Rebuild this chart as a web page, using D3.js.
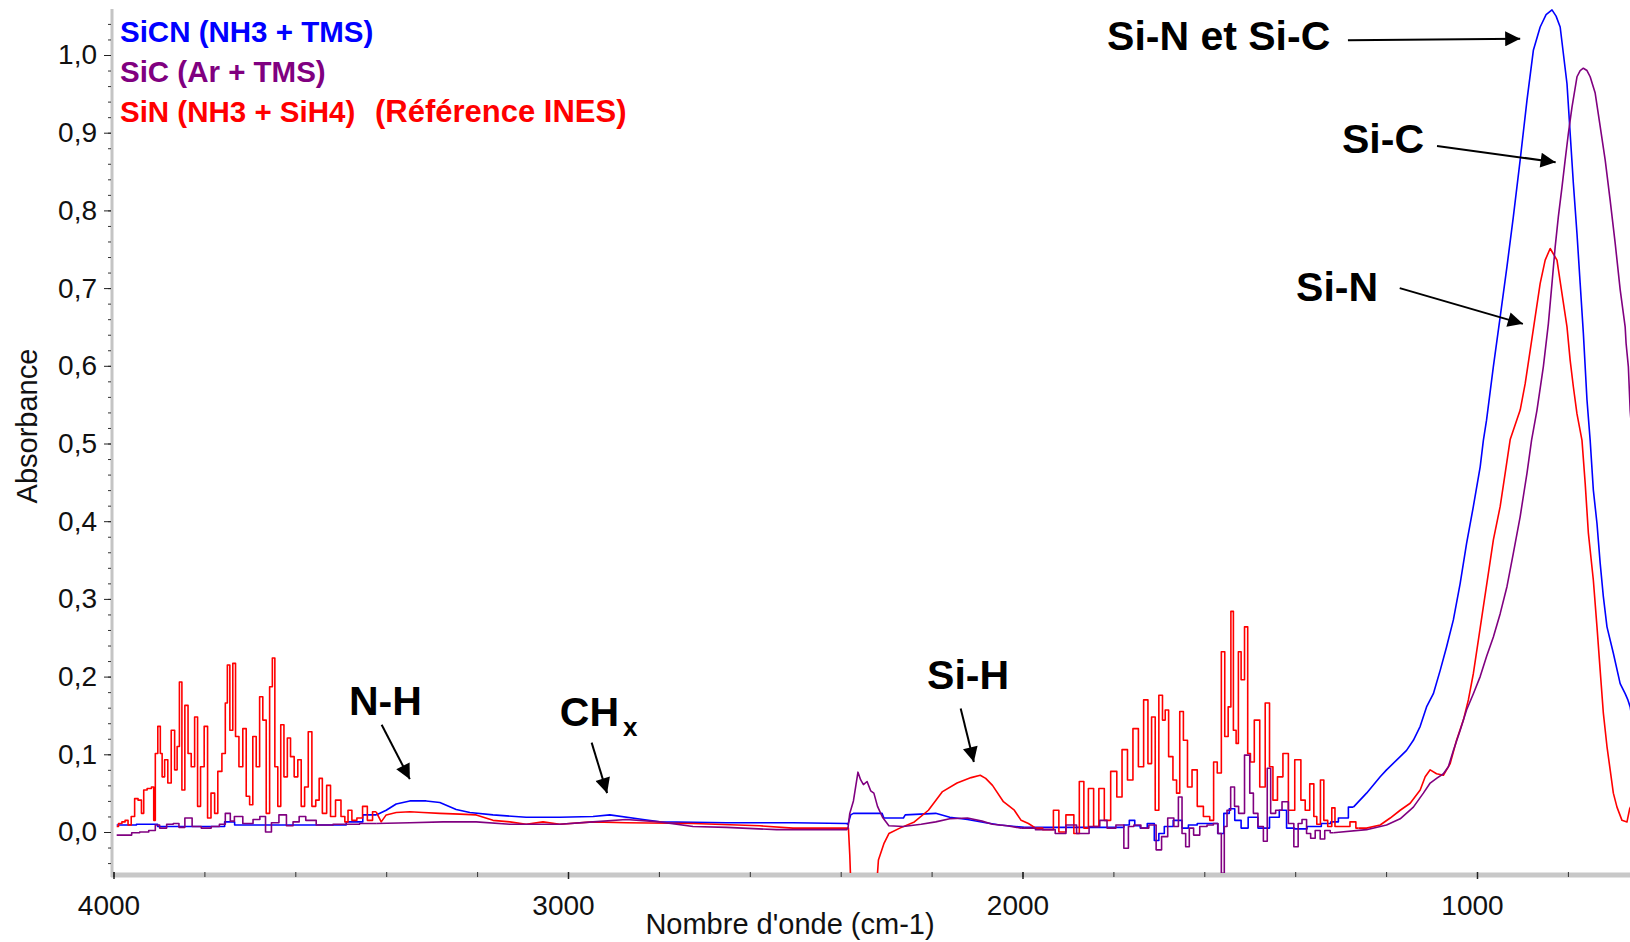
<!DOCTYPE html>
<meta charset="utf-8">

<!-- Load d3.js -->
<script src="https://d3js.org/d3.v7.min.js"></script>

<style>
    body {
        margin: 0;
        background: #ffffff;
    }

    svg text {
        font-family: "Liberation Sans", Arial, Helvetica, sans-serif;
    }

    .tick-label {
        font-size: 28px;
        fill: #111;
    }

    .axis-title {
        font-size: 29px;
        fill: #111;
    }

    .legend {
        font-size: 29.5px;
        font-weight: bold;
    }

    .annot {
        font-size: 41px;
        font-weight: bold;
        fill: #000;
    }

    .spectrum {
        fill: none;
        stroke-width: 1.6px;
        stroke-linejoin: round;
    }
</style>

<div id="chart"></div>

<script>
    // tick values
    const yTicks = [0, 0.1, 0.2, 0.3, 0.4, 0.5, 0.6, 0.7, 0.8, 0.9, 1.0];
    const xTicks = [4000, 3000, 2000, 1000];

    // series names (legend)
    const seriesNames = ["SiCN (NH3 + TMS)", "SiC (Ar + TMS)", "SiN (NH3 + SiH4)"];
    const legendNote = "(Référence INES)";

    // SiCN (NH3 + TMS) - [wavenumber, absorbance]
    const sicnSpectrum = [
        [3993, 0.009], [3906, 0.010], [3900, 0.007], [3759, 0.007], [3752, 0.013], [3737, 0.013],
        [3730, 0.009], [3495, 0.009], [3481, 0.013], [3422, 0.022], [3400, 0.028], [3378, 0.036],
        [3348, 0.040], [3312, 0.040], [3282, 0.038], [3246, 0.029], [3216, 0.025], [3165, 0.022],
        [3092, 0.019], [3018, 0.019], [2945, 0.020], [2908, 0.022], [2835, 0.016], [2798, 0.013],
        [2651, 0.012], [2505, 0.012], [2387, 0.011], [2384, 0.010], [2378, 0.022], [2372, 0.024],
        [2309, 0.024], [2305, 0.018], [2262, 0.018], [2258, 0.022], [2191, 0.024], [2160, 0.019],
        [2121, 0.016], [2081, 0.012], [2050, 0.009], [1995, 0.006], [1783, 0.006], [1771, 0.009],
        [1759, 0.015], [1747, 0.008], [1735, 0.005], [1716, 0.011], [1704, -0.011], [1696, -0.002],
        [1680, 0.007], [1657, 0.015], [1641, 0.005], [1629, 0.009], [1602, 0.011], [1578, 0.011],
        [1563, -0.002], [1551, 0.024], [1539, 0.030], [1527, 0.015], [1511, 0.005], [1496, 0.019],
        [1468, 0.005], [1445, 0.019], [1425, 0.028], [1413, 0.005], [1390, 0.004], [1358, 0.007],
        [1327, 0.011], [1316, 0.013], [1294, 0.018], [1272, 0.032], [1243, 0.050], [1213, 0.071],
        [1199, 0.080], [1169, 0.097], [1155, 0.105], [1140, 0.118], [1125, 0.136], [1111, 0.161],
        [1096, 0.178], [1081, 0.208], [1067, 0.238], [1052, 0.273], [1037, 0.320], [1023, 0.371],
        [1008, 0.419], [993, 0.470], [986, 0.504], [979, 0.530], [964, 0.599], [949, 0.663],
        [934, 0.728], [920, 0.792], [905, 0.865], [890, 0.942], [876, 1.006], [861, 1.036],
        [848, 1.052], [835, 1.058], [826, 1.050], [817, 1.036], [802, 0.963], [795, 0.899],
        [788, 0.835], [780, 0.770], [773, 0.706], [766, 0.642], [758, 0.556], [751, 0.504],
        [744, 0.440], [736, 0.397], [729, 0.346], [722, 0.303], [714, 0.264], [700, 0.230],
        [685, 0.191], [674, 0.178], [668, 0.170], [663, 0.161], [660, 0.150]
    ];

    // SiC (Ar + TMS)
    const sicSpectrum = [
        [3993, -0.004], [3970, -0.004], [3950, -0.001], [3935, 0.000], [3910, 0.002], [3906, 0.009],
        [3891, 0.005], [3875, 0.010], [3862, 0.011], [3850, 0.006], [3836, 0.018], [3818, 0.007],
        [3796, 0.005], [3774, 0.007], [3760, 0.010], [3748, 0.024], [3738, 0.014], [3730, 0.020],
        [3701, 0.011], [3685, 0.016], [3671, 0.020], [3660, 0.000], [3645, 0.012], [3627, 0.022],
        [3612, 0.008], [3598, 0.013], [3585, 0.020], [3569, 0.015], [3539, 0.009], [3495, 0.010],
        [3422, 0.011], [3348, 0.012], [3275, 0.013], [3202, 0.013], [3128, 0.010], [3018, 0.010],
        [2945, 0.013], [2872, 0.016], [2798, 0.013], [2725, 0.007], [2651, 0.006], [2541, 0.003],
        [2387, 0.003], [2384, 0.005], [2380, 0.024], [2372, 0.040], [2362, 0.077], [2356, 0.067],
        [2350, 0.061], [2342, 0.065], [2334, 0.053], [2327, 0.050], [2319, 0.033], [2308, 0.019],
        [2294, 0.008], [2262, 0.007], [2223, 0.010], [2191, 0.013], [2160, 0.017], [2121, 0.018],
        [2089, 0.014], [2066, 0.010], [2034, 0.008], [2003, 0.005], [1940, 0.003], [1916, -0.002],
        [1893, 0.009], [1869, -0.002], [1838, 0.007], [1822, 0.015], [1806, 0.005], [1783, 0.009],
        [1771, -0.021], [1763, 0.007], [1747, 0.009], [1732, 0.005], [1712, 0.009], [1700, -0.023],
        [1688, -0.006], [1673, 0.018], [1661, 0.007], [1653, 0.045], [1645, -0.002], [1637, -0.019],
        [1629, 0.005], [1618, -0.004], [1602, 0.007], [1586, 0.009], [1574, 0.011], [1566, -0.002],
        [1559, -0.053], [1553, 0.007], [1547, 0.028], [1537, 0.058], [1530, 0.033], [1519, 0.024],
        [1504, 0.099], [1496, 0.050], [1488, 0.024], [1476, 0.007], [1464, -0.012], [1459, 0.082],
        [1449, 0.024], [1437, 0.028], [1421, 0.039], [1409, 0.011], [1397, -0.019], [1390, 0.011],
        [1380, 0.016], [1370, -0.002], [1362, -0.008], [1350, 0.002], [1340, -0.009], [1330, 0.002],
        [1316, -0.001], [1243, 0.003], [1199, 0.009], [1169, 0.017], [1140, 0.032], [1118, 0.050],
        [1103, 0.063], [1089, 0.069], [1074, 0.075], [1063, 0.084], [1052, 0.105], [1037, 0.131],
        [1023, 0.157], [1008, 0.178], [993, 0.200], [979, 0.226], [964, 0.251], [949, 0.281],
        [934, 0.316], [920, 0.359], [905, 0.406], [890, 0.462], [880, 0.504], [868, 0.543],
        [854, 0.599], [843, 0.654], [835, 0.706], [828, 0.753], [821, 0.792], [813, 0.830],
        [806, 0.865], [799, 0.899], [791, 0.933], [780, 0.972], [773, 0.980], [766, 0.983],
        [758, 0.980], [751, 0.972], [740, 0.951], [729, 0.908], [718, 0.865], [707, 0.813],
        [696, 0.758], [685, 0.698], [674, 0.650], [672, 0.629], [667, 0.599], [663, 0.543],
        [660, 0.520]
    ];

    // SiN (NH3 + SiH4)
    const sinSpectrum = [
        [3993, 0.007], [3985, 0.011], [3978, 0.013], [3971, 0.015], [3965, 0.009], [3957, 0.020],
        [3950, 0.043], [3942, 0.041], [3935, 0.024], [3932, 0.054], [3920, 0.056], [3913, 0.058],
        [3910, 0.015], [3906, 0.101], [3899, 0.136], [3895, 0.101], [3891, 0.071], [3884, 0.093],
        [3877, 0.063], [3869, 0.131], [3862, 0.080], [3858, 0.110], [3852, 0.193], [3847, 0.054],
        [3839, 0.163], [3833, 0.101], [3825, 0.084], [3818, 0.148], [3812, 0.033], [3805, 0.084],
        [3796, 0.136], [3790, 0.018], [3781, 0.050], [3774, 0.024], [3767, 0.078], [3756, 0.101],
        [3752, 0.166], [3747, 0.215], [3741, 0.131], [3734, 0.217], [3729, 0.123], [3719, 0.084],
        [3712, 0.133], [3704, 0.046], [3697, 0.035], [3690, 0.123], [3682, 0.084], [3675, 0.174],
        [3668, 0.144], [3660, 0.024], [3653, 0.187], [3648, 0.224], [3642, 0.084], [3635, 0.033],
        [3629, 0.138], [3621, 0.071], [3614, 0.121], [3607, 0.097], [3598, 0.071], [3591, 0.093],
        [3583, 0.033], [3576, 0.058], [3567, 0.129], [3560, 0.033], [3550, 0.041], [3545, 0.069],
        [3536, 0.024], [3526, 0.060], [3519, 0.020], [3504, 0.041], [3495, 0.020], [3487, 0.013],
        [3481, 0.028], [3470, 0.015], [3459, 0.018], [3445, 0.033], [3438, 0.015], [3422, 0.026],
        [3411, 0.013], [3400, 0.022], [3378, 0.025], [3348, 0.026], [3319, 0.025], [3282, 0.024],
        [3238, 0.023], [3202, 0.022], [3165, 0.015], [3128, 0.013], [3092, 0.010], [3055, 0.013],
        [3018, 0.010], [2945, 0.013], [2872, 0.012], [2725, 0.011], [2578, 0.008], [2505, 0.005],
        [2387, 0.005], [2383, 0.005], [2380, -0.030], [2377, -0.080], [2374, -0.150], [2326, -0.150],
        [2321, -0.070], [2317, -0.036], [2305, -0.015], [2294, -0.002], [2270, 0.005], [2238, 0.013],
        [2207, 0.028], [2176, 0.052], [2144, 0.063], [2113, 0.070], [2093, 0.073], [2081, 0.069],
        [2066, 0.060], [2042, 0.039], [2018, 0.028], [2003, 0.015], [1987, 0.011], [1971, 0.005],
        [1940, 0.003], [1924, 0.028], [1916, 0.000], [1893, 0.022], [1881, -0.002], [1869, 0.065],
        [1861, 0.005], [1849, 0.056], [1838, 0.007], [1826, 0.056], [1814, 0.015], [1798, 0.078],
        [1787, 0.045], [1775, 0.106], [1763, 0.067], [1751, 0.133], [1739, 0.084], [1728, 0.170],
        [1720, 0.088], [1712, 0.148], [1704, 0.028], [1696, 0.176], [1688, 0.144], [1684, 0.157],
        [1673, 0.097], [1665, 0.067], [1657, 0.050], [1651, 0.155], [1641, 0.118], [1633, 0.058],
        [1621, 0.080], [1610, 0.033], [1594, 0.020], [1582, 0.015], [1577, 0.090], [1566, 0.076],
        [1559, 0.232], [1551, 0.123], [1544, 0.161], [1539, 0.284], [1533, 0.131], [1527, 0.114],
        [1523, 0.232], [1515, 0.196], [1508, 0.264], [1501, 0.101], [1496, 0.090], [1484, 0.144],
        [1472, 0.058], [1460, 0.166], [1453, 0.084], [1445, 0.041], [1433, 0.071], [1421, 0.101],
        [1409, 0.028], [1393, 0.093], [1382, 0.041], [1374, 0.028], [1362, 0.062], [1356, 0.020],
        [1349, 0.010], [1340, 0.067], [1334, 0.015], [1323, 0.007], [1316, 0.031], [1309, 0.007],
        [1287, 0.007], [1272, 0.013], [1261, 0.005], [1243, 0.005], [1213, 0.009], [1191, 0.018],
        [1169, 0.028], [1147, 0.037], [1125, 0.054], [1114, 0.071], [1103, 0.080], [1089, 0.075],
        [1074, 0.073], [1059, 0.088], [1045, 0.118], [1030, 0.144], [1019, 0.170], [1008, 0.204],
        [997, 0.247], [986, 0.290], [975, 0.333], [964, 0.376], [949, 0.419], [938, 0.462],
        [927, 0.505], [905, 0.543], [894, 0.577], [883, 0.620], [872, 0.663], [861, 0.706],
        [850, 0.736], [839, 0.751], [824, 0.736], [813, 0.693], [802, 0.650], [795, 0.607],
        [788, 0.573], [780, 0.538], [769, 0.504], [762, 0.449], [755, 0.385], [744, 0.324],
        [736, 0.264], [729, 0.208], [722, 0.153], [714, 0.110], [707, 0.080], [700, 0.050],
        [692, 0.032], [681, 0.015], [670, 0.013], [664, 0.030], [660, 0.035]
    ];

    // band labels, placed in data units: [text, wavenumber, absorbance]
    const bandLabels = [
        ["Si-N et Si-C", 1814, 1.006],
        ["Si-C", 1297, 0.874],
        ["Si-N", 1398, 0.683],
        ["N-H", 3482, 0.151],
        ["Si-H", 2210, 0.184]
    ];
    // arrows: [from wavenumber, from absorbance, to wavenumber, to absorbance]
    const bandArrows = [
        [1284, 1.019, 905, 1.021],
        [1088, 0.883, 827, 0.862],
        [1170, 0.700, 899, 0.654],
        [3410, 0.138, 3348, 0.068],
        [2948, 0.115, 2914, 0.050],
        [2136, 0.159, 2107, 0.090]
    ];

    let width = 1630,
        height = 942;

    let svg = d3.select("#chart")
        .append("svg")
        .attr("width", width)
        .attr("height", height);

    let x = d3.scaleLinear()
        .domain([4000, 1000])
        .range([113.5, 1477]);

    let y = d3.scaleLinear()
        .domain([0, 1])
        .range([832, 55]);

    let commaFormat = v => d3.format(".1f")(v).replace(".", ",");

    // plot clip (the red dip at 2350 runs below the axis bar)
    svg.append("clipPath")
        .attr("id", "plotclip")
        .append("rect")
        .attr("x", 111)
        .attr("y", 0)
        .attr("width", width - 111)
        .attr("height", 873);

    // y axis line
    svg.append("line")
        .attr("x1", 112).attr("x2", 112)
        .attr("y1", 9).attr("y2", 877)
        .attr("stroke", "#c4c4c4")
        .attr("stroke-width", 3);

    // x axis bar
    svg.append("line")
        .attr("x1", 111).attr("x2", width)
        .attr("y1", 875).attr("y2", 875)
        .attr("stroke", "#c8c8c8")
        .attr("stroke-width", 5);

    // minor y ticks
    svg.append("g")
        .attr("transform", "translate(111,0)")
        .call(d3.axisLeft(y)
            .tickValues(d3.range(-2, 53).map(i => i * 0.02))
            .tickSize(3)
            .tickFormat(""))
        .call(g => g.select(".domain").remove())
        .call(g => g.selectAll("line").attr("stroke", "#333"));

    // major y ticks + labels
    svg.append("g")
        .attr("transform", "translate(111,0)")
        .call(d3.axisLeft(y)
            .tickValues(yTicks)
            .tickSize(7)
            .tickPadding(7)
            .tickFormat(commaFormat))
        .call(g => g.attr("font-size", null).attr("font-family", null))
        .call(g => g.select(".domain").remove())
        .call(g => g.selectAll("line").attr("stroke", "#222"))
        .call(g => g.selectAll("text").attr("class", "tick-label").attr("fill", null));

    // minor x ticks
    svg.append("g")
        .attr("transform", "translate(0,872)")
        .call(d3.axisBottom(x)
            .tickValues(d3.range(4, 21).map(i => i * 200))
            .tickSize(5)
            .tickFormat(""))
        .call(g => g.select(".domain").remove())
        .call(g => g.selectAll("line").attr("stroke", "#333"));

    // major x ticks + labels
    svg.append("g")
        .attr("transform", "translate(0,872)")
        .call(d3.axisBottom(x)
            .tickValues(xTicks)
            .tickSize(7)
            .tickFormat(d3.format("d")))
        .call(g => g.attr("font-size", null).attr("font-family", null))
        .call(g => g.select(".domain").remove())
        .call(g => g.selectAll("line").attr("stroke", "#222").attr("stroke-width", 1.5))
        .call(g => g.selectAll("text")
            .attr("class", "tick-label")
            .attr("fill", null)
            .attr("y", 43)
            .attr("dy", null)
            .attr("x", -5));

    // axis titles
    svg.append("text")
        .attr("class", "axis-title")
        .attr("transform", "translate(37,426) rotate(-90)")
        .attr("text-anchor", "middle")
        .text("Absorbance");

    svg.append("text")
        .attr("class", "axis-title")
        .attr("x", 790)
        .attr("y", 934)
        .attr("text-anchor", "middle")
        .text("Nombre d'onde (cm-1)");

    // spectra: the water-vapour bands are drawn stair-stepped like the
    // recorded trace, the smooth bands as straight segments
    let stepLine = d3.line()
        .curve(d3.curveStep)
        .x(d => x(d[0]))
        .y(d => y(d[1]));

    let smoothLine = d3.line()
        .x(d => x(d[0]))
        .y(d => y(d[1]));

    let noisyRanges = [[3420, 4000], [1250, 1945]];
    let isNoisy = w => noisyRanges.some(r => w >= r[0] && w <= r[1]);

    let plot = svg.append("g").attr("clip-path", "url(#plotclip)");

    let series = [
        {data: sicnSpectrum, color: "#0000ff"},
        {data: sinSpectrum, color: "#ff0000"},
        {data: sicSpectrum, color: "#800080"}
    ];

    for (let s of series) {
        // cut the series into runs of noisy / smooth points, sharing end points
        let runs = [];
        let current = null;
        for (let d of s.data) {
            let noisy = isNoisy(d[0]);
            if (!current || current.noisy !== noisy) {
                let prev = current ? current.points[current.points.length - 1] : null;
                current = {noisy: noisy, points: prev ? [prev] : []};
                runs.push(current);
            }
            current.points.push(d);
        }

        for (let r of runs) {
            plot.append("path")
                .datum(r.points)
                .attr("class", "spectrum")
                .attr("stroke", s.color)
                .attr("d", r.noisy ? stepLine : smoothLine);
        }
    }

    // legend
    let legendColors = ["#0000ff", "#800080", "#ff0000"];
    let legendBase = [42, 82, 122];
    for (let i = 0; i < seriesNames.length; i++) {
        svg.append("text")
            .attr("class", "legend")
            .attr("x", 120)
            .attr("y", legendBase[i])
            .attr("fill", legendColors[i])
            .text(seriesNames[i]);
    }
    svg.append("text")
        .attr("class", "legend")
        .attr("x", 375)
        .attr("y", 122)
        .attr("fill", "#ff0000")
        .style("font-size", "31px")
        .text(legendNote);

    // arrow head
    svg.append("defs")
        .append("marker")
        .attr("id", "head")
        .attr("viewBox", "0 0 10 10")
        .attr("markerUnits", "userSpaceOnUse")
        .attr("markerWidth", 17)
        .attr("markerHeight", 15)
        .attr("refX", 10)
        .attr("refY", 5)
        .attr("orient", "auto")
        .append("path")
        .attr("d", "M0,0 L10,5 L0,10 z")
        .attr("fill", "#000");

    // band annotations
    for (let b of bandLabels) {
        svg.append("text")
            .attr("class", "annot")
            .attr("x", x(b[1]))
            .attr("y", y(b[2]))
            .text(b[0]);
    }

    // CHx with subscript
    let ch = svg.append("text")
        .attr("class", "annot")
        .attr("x", x(3018))
        .attr("y", y(0.136))
        .text("CH");
    ch.append("tspan")
        .attr("dx", 4)
        .attr("dy", 10)
        .style("font-size", "26px")
        .text("x");

    for (let a of bandArrows) {
        svg.append("line")
            .attr("x1", x(a[0]))
            .attr("y1", y(a[1]))
            .attr("x2", x(a[2]))
            .attr("y2", y(a[3]))
            .attr("stroke", "#000")
            .attr("stroke-width", 2)
            .attr("marker-end", "url(#head)");
    }
</script>
